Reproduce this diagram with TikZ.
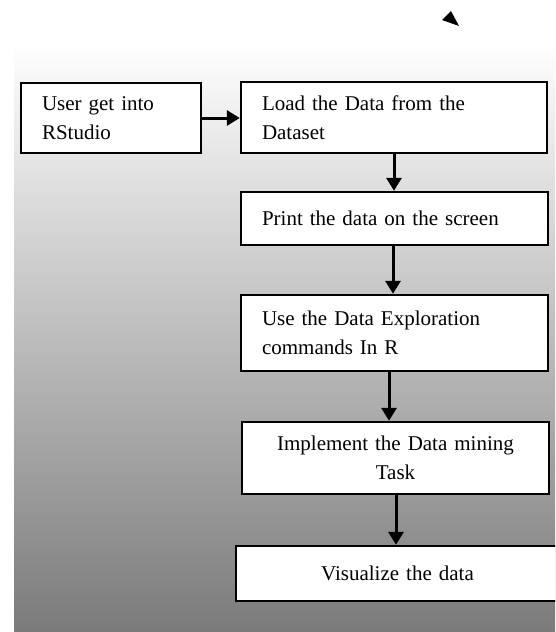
\documentclass[tikz,border=0pt]{standalone}
\usepackage{fontspec}
\setmainfont{Liberation Serif}
\usetikzlibrary{arrows.meta,positioning}
\tikzset{
  font=\fontsize{21}{28.5}\selectfont,
  stepbox/.style ={draw, line width=2.4pt, fill=white, inner xsep=21pt, inner ysep=0pt, align=left},
  midbox/.style  ={stepbox, align=center},
  arr/.style     ={-{Triangle[length=13pt,width=15pt]}, line width=3pt},
}

\begin{document}
\begin{tikzpicture}[x=1pt, y=-1pt]
  \clip (0,0) rectangle (555,632);
  % backdrop
  \shade[top color=white, bottom color=black!52] (14,42) rectangle (555,632);
  \fill (442,20) -- (451,11) -- (459,26) -- cycle;
  % steps
  \node[stepbox, text width=138pt, minimum height=70pt] (user) at (111,118) {User get into\\RStudio};
  \node[stepbox, text width=264pt, minimum height=71pt] (load) at (394,117.5) {Load the Data from the\\Dataset};
  \node[stepbox, text width=265pt, minimum height=53pt] (print) at (394.5,218.5) {Print the data on the screen};
  \node[stepbox, text width=265pt, minimum height=76pt] (explore) at (394.5,333) {Use the Data Exploration\\commands In R};
  \node[midbox, text width=265pt, minimum height=72pt] (mining) at (395.5,458) {Implement the Data mining\\Task};
  \node[midbox, text width=281pt, minimum height=55pt] (visual) at (397.5,573.5) {Visualize the data};
  % flow
  \draw[arr] (user.east) -- (user.east -| load.west);
  \draw[arr] (load.south) -- (load.south |- print.north);
  \draw[arr] ([xshift=-1.5pt]print.south) -- ([xshift=-1.5pt]print.south |- explore.north);
  \draw[arr] ([xshift=-5.5pt]explore.south) -- ([xshift=-5.5pt]explore.south |- mining.north);
  \draw[arr] ([xshift=0.5pt]mining.south) -- ([xshift=0.5pt]mining.south |- visual.north);
\end{tikzpicture}
\end{document}
